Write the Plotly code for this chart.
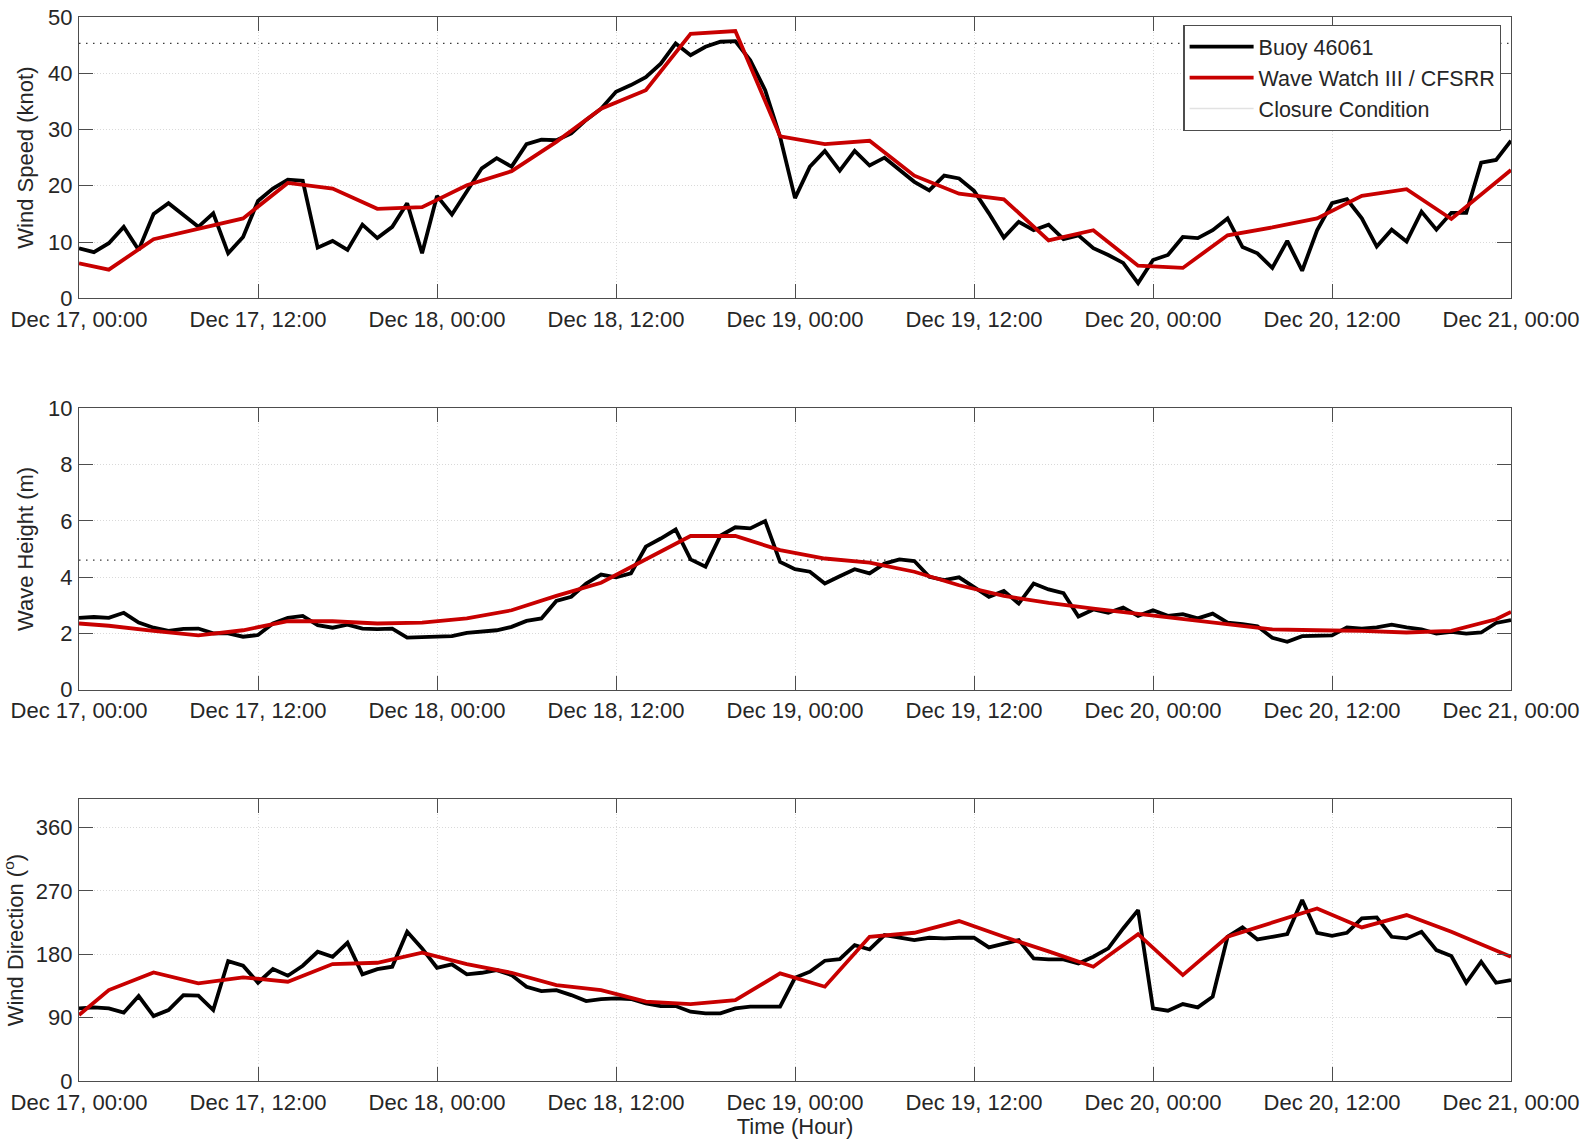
import pandas as pd
import plotly.graph_objects as go

# ---------------------------------------------------------------
# Storm period, hourly buoy record and 3-hourly model output
# ---------------------------------------------------------------
start = pd.Timestamp("2012-12-17 00:00")
end = pd.Timestamp("2012-12-21 00:00")

buoy_hours = list(range(97))
model_hours = [0, 2, 5, 8, 11, 14, 17, 20, 23, 26, 29, 32, 35, 38, 41, 44, 47,
               50, 53, 56, 59, 62, 65, 68, 71, 74, 77, 80, 83, 86, 89, 92, 95, 96]

# Wind speed (knot)
wind_speed_buoy = [
    8.9, 8.2, 9.8, 12.7, 8.6, 15.0, 16.9, 14.8, 12.7, 15.1, 8.0, 10.9,
    17.3, 19.5, 21.1, 20.9, 9.0, 10.2, 8.6, 13.1, 10.7, 12.7, 16.9, 8.0,
    18.2, 14.9, 18.9, 23.1, 24.9, 23.4, 27.4, 28.2, 28.1, 29.3, 31.7, 33.7,
    36.7, 37.9, 39.3, 41.7, 45.3, 43.2, 44.7, 45.6, 45.7, 42.3, 37.0, 28.7,
    17.8, 23.4, 26.2, 22.7, 26.2, 23.6, 25.0, 22.8, 20.7, 19.2, 21.8, 21.3,
    19.1, 15.1, 10.8, 13.6, 12.1, 13.1, 10.5, 11.2, 8.9, 7.7, 6.3, 2.7,
    6.8, 7.7, 10.9, 10.7, 12.1, 14.2, 9.1, 8.0, 5.4, 10.2, 4.9, 12.1,
    16.9, 17.6, 14.2, 9.2, 12.2, 10.1, 15.4, 12.2, 15.2, 15.2, 24.1, 24.6,
    28.0,
]
wind_speed_model = [
    6.2, 5.1, 10.5, 12.4, 14.2, 20.5, 19.5, 15.9, 16.2, 20.1, 22.6, 27.8,
    33.7, 37.0, 47.0, 47.5, 28.8, 27.4, 28.0, 21.8, 18.6, 17.6, 10.3, 12.1,
    5.8, 5.4, 11.2, 12.6, 14.2, 18.2, 19.4, 14.1, 20.7, 22.8,
]

# Significant wave height (m)
wave_height_buoy = [
    2.55, 2.58, 2.55, 2.73, 2.38, 2.20, 2.09, 2.16, 2.17, 2.00, 2.00, 1.88,
    1.94, 2.35, 2.55, 2.62, 2.29, 2.20, 2.31, 2.17, 2.15, 2.17, 1.85, 1.87,
    1.90, 1.90, 2.02, 2.05, 2.11, 2.23, 2.44, 2.53, 3.15, 3.30, 3.77, 4.09,
    3.99, 4.13, 5.08, 5.37, 5.69, 4.63, 4.37, 5.47, 5.77, 5.73, 5.99, 4.54,
    4.28, 4.19, 3.77, 4.03, 4.28, 4.13, 4.48, 4.63, 4.57, 4.01, 3.89, 3.99,
    3.65, 3.30, 3.51, 3.06, 3.77, 3.56, 3.43, 2.60, 2.85, 2.73, 2.92, 2.62,
    2.82, 2.62, 2.68, 2.53, 2.70, 2.38, 2.33, 2.25, 1.84, 1.70, 1.90, 1.91,
    1.93, 2.21, 2.17, 2.21, 2.31, 2.21, 2.14, 1.99, 2.05, 1.99, 2.03, 2.37,
    2.47,
]
wave_height_model = [
    2.35, 2.27, 2.09, 1.93, 2.11, 2.43, 2.43, 2.35, 2.38, 2.53, 2.82, 3.33,
    3.80, 4.64, 5.46, 5.46, 4.96, 4.66, 4.51, 4.19, 3.71, 3.33, 3.08, 2.88,
    2.70, 2.49, 2.31, 2.14, 2.11, 2.09, 2.03, 2.09, 2.50, 2.76,
]

# Wind direction (degrees)
wind_dir_buoy = [
    103.1, 104.5, 103.1, 97.0, 120.6, 92.2, 100.8, 122.0, 121.1, 100.8, 170.3, 163.7,
    139.5, 158.9, 149.5, 163.7, 183.5, 176.4, 196.3, 151.4, 158.9, 162.3, 211.9, 188.3,
    160.8, 165.6, 151.4, 153.7, 157.5, 150.4, 133.9, 127.7, 129.0, 122.0, 113.5, 116.4,
    117.3, 116.4, 110.2, 106.4, 106.4, 98.4, 96.0, 96.0, 103.1, 105.5, 105.5, 105.5,
    146.6, 155.2, 170.8, 173.1, 193.0, 186.8, 207.2, 203.9, 200.1, 203.4, 202.5, 203.4,
    203.4, 189.7, 195.4, 200.1, 174.1, 172.7, 172.7, 167.0, 176.4, 188.3, 216.6, 242.7,
    103.1, 99.8, 109.3, 104.5, 119.7, 204.8, 218.1, 201.0, 204.8, 208.6, 256.9, 210.5,
    206.2, 210.5, 230.8, 232.3, 204.8, 202.5, 211.9, 185.9, 177.4, 139.5, 169.3, 139.5,
    143.3,
]
wind_dir_model = [
    93.7, 129.1, 154.2, 138.6, 147.1, 141.0, 166.0, 167.9, 182.1, 166.0, 153.7, 136.2,
    129.1, 112.6, 109.3, 114.9, 152.8, 133.9, 204.8, 210.5, 227.1, 204.8, 184.0, 162.3,
    208.6, 150.4, 204.8, 224.7, 245.0, 218.1, 235.6, 211.9, 185.9, 176.4,
]

# Harbour-bar closure thresholds
closure_wind_speed = 45.3
closure_wave_height = 4.6

buoy_times = [start + pd.Timedelta(hours=h) for h in buoy_hours]
model_times = [start + pd.Timedelta(hours=h) for h in model_hours]

FONT = "Liberation Sans, Arial, Helvetica, sans-serif"
TEXT = "#262626"
BUOY_COLOR = "#000000"
MODEL_COLOR = "#c80000"
LW = 3.8
FS = 22

fig = go.Figure()

panels = [
    ("x", "y", wind_speed_buoy, wind_speed_model, closure_wind_speed),
    ("x2", "y2", wave_height_buoy, wave_height_model, closure_wave_height),
    ("x3", "y3", wind_dir_buoy, wind_dir_model, None),
]

for i, (xa, ya, obs, mod, closure) in enumerate(panels):
    first = i == 0
    if closure is not None:
        fig.add_trace(go.Scatter(
            x=[start, end], y=[closure, closure], mode="lines",
            line=dict(color="#3a3a3a", width=1.2, dash="1.5px,5.5px"),
            showlegend=False, hoverinfo="skip", xaxis=xa, yaxis=ya))
    fig.add_trace(go.Scatter(
        x=buoy_times, y=obs, mode="lines", name="Buoy 46061",
        line=dict(color=BUOY_COLOR, width=LW), showlegend=first,
        xaxis=xa, yaxis=ya))
    fig.add_trace(go.Scatter(
        x=model_times, y=mod, mode="lines", name="Wave Watch III / CFSRR",
        line=dict(color=MODEL_COLOR, width=LW), showlegend=first,
        xaxis=xa, yaxis=ya))

# legend entry for the closure threshold lines
fig.add_trace(go.Scatter(
    x=[None], y=[None], mode="lines", name="Closure Condition",
    line=dict(color="#e2e2e2", width=1.5), showlegend=True,
    xaxis="x", yaxis="y"))

tickfont = dict(family=FONT, size=FS, color=TEXT)
titlefont = dict(family=FONT, size=FS, color=TEXT)

common_x = dict(
    type="date", range=[start, end], dtick=12 * 3600 * 1000,
    tickformat="%b %d, %H:%M", tick0=start,
    showgrid=True, gridcolor="#d9d9d9", griddash="1px,2px", gridwidth=1,
    showline=True, linecolor="#4d4d4d", linewidth=1.2, mirror="ticks",
    ticks="inside", ticklen=14, tickcolor="#4d4d4d", tickwidth=1.2,
    tickfont=tickfont, ticklabelstandoff=1, zeroline=False, automargin=False,
)
common_y = dict(
    showgrid=True, gridcolor="#d9d9d9", griddash="1px,2px", gridwidth=1,
    showline=True, linecolor="#4d4d4d", linewidth=1.2, mirror="ticks",
    ticks="inside", ticklen=14, tickcolor="#4d4d4d", tickwidth=1.2,
    tickfont=tickfont, ticklabelstandoff=1, zeroline=False, automargin=False,
)

H = 1064.0
d3 = [0.0, 281.7 / H]
d2 = [(1081 - 689.6) / H, (1081 - 408.3) / H]
d1 = [(1081 - 298.3) / H, 1.0]

fig.update_layout(
    width=1593, height=1142,
    margin=dict(l=79, r=82, t=17, b=61),
    paper_bgcolor="white", plot_bgcolor="white",
    font=dict(family=FONT, color=TEXT),
    xaxis=dict(common_x, anchor="y", domain=[0, 1]),
    xaxis2=dict(common_x, anchor="y2", domain=[0, 1]),
    xaxis3=dict(common_x, anchor="y3", domain=[0, 1],
                title=dict(text="Time (Hour)", font=titlefont, standoff=4)),
    yaxis=dict(common_y, anchor="x", domain=d1, range=[0, 50], dtick=10,
               title=dict(text="Wind Speed (knot)", font=titlefont, standoff=8)),
    yaxis2=dict(common_y, anchor="x2", domain=d2, range=[0, 10], dtick=2,
                title=dict(text="Wave Height (m)", font=titlefont, standoff=8)),
    yaxis3=dict(common_y, anchor="x3", domain=d3, range=[0, 400],
                tickvals=[0, 90, 180, 270, 360],
                title=dict(text="Wind Direction (<sup>o</sup>)", font=titlefont,
                           standoff=8)),
    legend=dict(
        x=0.9933, y=0.9925, xanchor="right", yanchor="top",
        bgcolor="white", bordercolor="#4d4d4d", borderwidth=1.2,
        font=dict(family=FONT, size=21.5, color=TEXT),
        itemwidth=64, tracegroupgap=0,
    ),
    showlegend=True,
)

fig.write_html("out.html")
